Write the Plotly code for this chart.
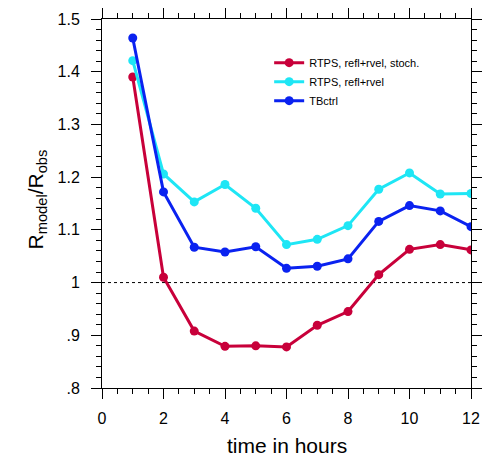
import plotly.graph_objects as go

hours = [1, 2, 3, 4, 5, 6, 7, 8, 9, 10, 11, 12]
rtps_stoch = [1.390, 1.010, 0.908, 0.879, 0.880, 0.878, 0.919, 0.945, 1.015, 1.063, 1.072, 1.062]
rtps = [1.421, 1.206, 1.153, 1.186, 1.141, 1.072, 1.082, 1.108, 1.177, 1.208, 1.168, 1.169]
tbctrl = [1.464, 1.172, 1.067, 1.058, 1.068, 1.027, 1.031, 1.045, 1.116, 1.146, 1.136, 1.106]

names = ["RTPS, refl+rvel, stoch.", "RTPS, refl+rvel", "TBctrl"]
colors = ["#C8003A", "#1EE6F5", "#0A22F0"]
series = [rtps_stoch, rtps, tbctrl]

ytickvals = [0.8, 0.9, 1.0, 1.1, 1.2, 1.3, 1.4, 1.5]
yticktext = [".8", ".9", "1", "1.1", "1.2", "1.3", "1.4", "1.5"]
xtickvals = [0, 2, 4, 6, 8, 10, 12]

FONT = "Liberation Sans, Arial, Helvetica, sans-serif"

fig = go.Figure()
# reference dotted line at 1
fig.add_trace(go.Scatter(x=[0, 12], y=[1, 1], mode="lines",
                         line=dict(color="black", width=1, dash="dot"),
                         showlegend=False, hoverinfo="skip"))
for name, col, vals in zip(names, colors, series):
    fig.add_trace(go.Scatter(x=hours, y=vals, mode="lines+markers", name=name,
                             line=dict(color=col, width=3),
                             marker=dict(color=col, size=9)))

axis_common = dict(showline=True, linecolor="black", linewidth=1, mirror="allticks",
                   ticks="outside", ticklen=10, tickwidth=1, tickcolor="black",
                   showgrid=False, zeroline=False, automargin=False,
                   tickfont=dict(family=FONT, size=16, color="black"))

fig.update_xaxes(range=[0, 12], tickvals=xtickvals, ticklabelstandoff=6,
                 minor=dict(dtick=0.5, ticklen=5, tickcolor="black", ticks="outside"),
                 **axis_common)
fig.update_yaxes(range=[0.8, 1.5], tickvals=ytickvals, ticktext=yticktext, ticklabelstandoff=8,
                 minor=dict(dtick=0.02, ticklen=5, tickcolor="black", ticks="outside"),
                 **axis_common)

fig.add_annotation(text="time in hours", xref="paper", yref="paper", x=0.5, y=0,
                   xanchor="center", yanchor="middle", yshift=-57, showarrow=False,
                   font=dict(family=FONT, size=21, color="black"))
fig.add_annotation(text="R<sub>model</sub>/R<sub>obs</sub>", xref="paper", yref="paper",
                   x=0, y=0.5, xanchor="center", yanchor="middle", xshift=-66, yshift=4,
                   textangle=-90, showarrow=False,
                   font=dict(family=FONT, size=21, color="black"))

fig.update_layout(
    width=485, height=457,
    margin=dict(l=102, r=14, t=19, b=69),
    plot_bgcolor="white", paper_bgcolor="white",
    legend=dict(x=0.453, y=0.921, xanchor="left", yanchor="top",
                bgcolor="rgba(0,0,0,0)", font=dict(family=FONT, size=11, color="black"),
                itemwidth=30, tracegroupgap=0),
)

fig.write_html("out.html")
